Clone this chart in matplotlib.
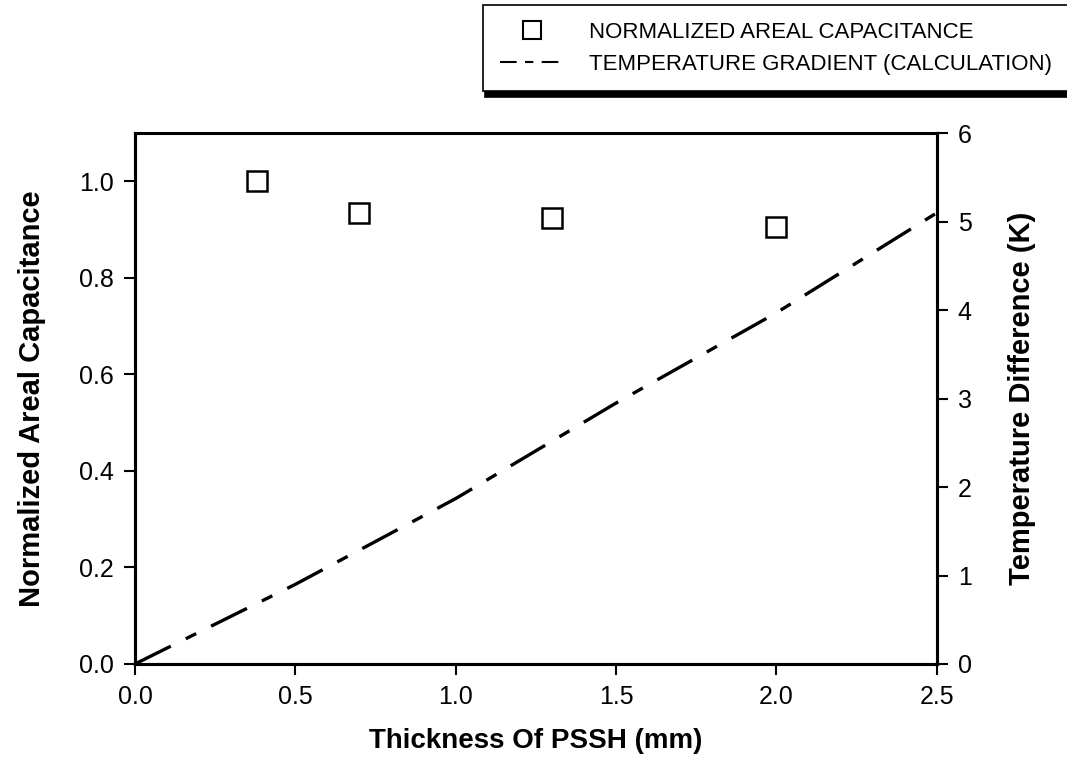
import matplotlib
matplotlib.use("Agg")
import matplotlib.pyplot as plt
from matplotlib.lines import Line2D

plt.rcParams['font.family'] = ['Liberation Sans', 'DejaVu Sans']

# measured capacitance (normalized)
thickness = [0.38, 0.70, 1.30, 2.00]
capacitance = [1.00, 0.934, 0.925, 0.905]

# calculated temperature gradient
calc_thickness = [0.0, 0.5, 1.0, 1.5, 2.0, 2.5]
temp_diff = [0.0, 0.9, 1.87, 2.95, 3.97, 5.1]

x_ticks = [0.0, 0.5, 1.0, 1.5, 2.0, 2.5]
left_ticks = [0.0, 0.2, 0.4, 0.6, 0.8, 1.0]
right_ticks = [0, 1, 2, 3, 4, 5, 6]

fig = plt.figure(figsize=(10.67, 7.7), dpi=100)
ax = fig.add_axes([0.1265, 0.1377, 0.7515, 0.6893])
ax2 = ax.twinx()

ax.plot(thickness, capacitance, ls='none', marker='s', ms=15,
        mfc='white', mec='black', mew=1.8, zorder=3)
dash_style = (0, (12, 5, 3.5, 5))
ax2.plot(calc_thickness, temp_diff, color='black', lw=2.4, ls=dash_style)

ax.set_xlim(0, 2.5)
ax.set_ylim(0, 1.1)
ax2.set_ylim(0, 6)
ax.set_xticks(x_ticks)
ax.set_xticklabels(['%.1f' % v for v in x_ticks])
ax.set_yticks(left_ticks)
ax.set_yticklabels(['%.1f' % v for v in left_ticks])
ax2.set_yticks(right_ticks)

for a in (ax, ax2):
    for s in a.spines.values():
        s.set_linewidth(2.2)
    a.tick_params(direction='out', length=8, width=1.5, labelsize=18, pad=7)
ax2.spines['top'].set_visible(False)

ax.set_xlabel('Thickness Of PSSH (mm)', labelpad=14, fontsize=20, fontweight='bold')
ax.set_ylabel('Normalized Areal Capacitance', labelpad=24, fontsize=21, fontweight='bold')
ax2.set_ylabel('Temperature Difference (K)', labelpad=26, fontsize=21, fontweight='bold')

handles = [
    Line2D([], [], ls='none', marker='s', ms=13, mfc='white', mec='black', mew=1.5),
    Line2D([], [], color='black', lw=1.5, ls=(0, (8, 4, 4, 4))),
]
labels = ['NORMALIZED AREAL CAPACITANCE', 'TEMPERATURE GRADIENT (CALCULATION)']
leg = fig.legend(handles, labels, loc='upper right', bbox_to_anchor=(1.012, 1.008),
                 fontsize=16, frameon=True, fancybox=False,
                 shadow={'ox': 1, 'oy': -4, 'color': 'black', 'alpha': 1},
                 handlelength=2.9, handletextpad=1.1, borderpad=0.75, labelspacing=0.5,
                 edgecolor='black')
leg.get_frame().set_linewidth(1.2)

fig.savefig('out.png', dpi=100)
